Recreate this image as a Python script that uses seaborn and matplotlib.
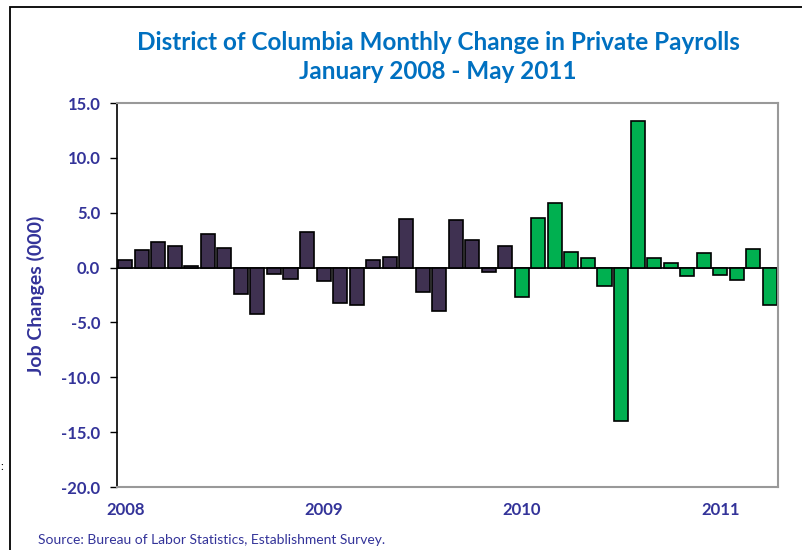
import matplotlib
matplotlib.use("Agg")
import matplotlib.pyplot as plt
import seaborn as sns
import pandas as pd
from matplotlib.patches import Rectangle

# Data (thousands of jobs), Jan 2008 onward
values_2008_2009 = [0.7, 1.6, 2.3, 2.0, 0.1, 3.1, 1.8, -2.4, -4.2, -0.6, -1.0, 3.2,
                    -1.2, -3.2, -3.4, 0.7, 1.0, 4.4, -2.2, -4.0, 4.3, 2.5, -0.4, 2.0]
values_2010_2011 = [-2.7, 4.5, 5.9, 1.4, 0.9, -1.7, -14.0, 13.4, 0.9, 0.4, -0.8, 1.3,
                    -0.7, -1.1, 1.7, -3.4]
year_labels = ["2008", "2009", "2010", "2011"]
y_ticks = [15.0, 10.0, 5.0, 0.0, -5.0, -10.0, -15.0, -20.0]

title = "District of Columbia Monthly Change in Private Payrolls\nJanuary 2008 - May 2011"
ylabel = "Job Changes (000)"
source = "Source: Bureau of Labor Statistics, Establishment Survey."

values = values_2008_2009 + values_2010_2011
groups = ["early"] * len(values_2008_2009) + ["late"] * len(values_2010_2011)
df = pd.DataFrame({"month": list(range(len(values))), "change": values, "group": groups})

sns.set_style("white")
plt.rcParams["font.family"] = ["Lato", "DejaVu Sans"]

navy = "#333399"
fig = plt.figure(figsize=(8.03, 5.5), dpi=100)
ax = fig.add_axes([117 / 803, 1 - 487 / 550, (778 - 117) / 803, (487 - 103) / 550])

sns.barplot(data=df, x="month", y="change", hue="group", dodge=False,
            palette={"early": "#3F3151", "late": "#00B050"}, width=0.85, saturation=1,
            edgecolor="black", linewidth=1.2, legend=False, ax=ax)

ax.axhline(0, color="black", lw=1.2, zorder=0.5)
ax.set_xlim(-0.5, len(values) - 0.5)
ax.set_ylim(-20, 15)
ax.set_yticks(y_ticks)
ax.set_yticklabels([f"{v:.1f}" for v in y_ticks], fontsize=12, fontweight="bold", color=navy)
ax.set_xticks([0, 12, 24, 36])
ax.set_xticklabels(year_labels, fontsize=12, fontweight="bold", color=navy)
ax.tick_params(axis="y", direction="out", length=5, width=1, color="black", pad=7, left=True)
ax.tick_params(axis="x", length=0, pad=11)
ax.set_xlabel("")
ax.set_ylabel(ylabel, fontsize=14, fontweight="bold", color=navy, labelpad=12)

for side in ["top", "right", "bottom"]:
    ax.spines[side].set_color("#999999")
    ax.spines[side].set_linewidth(1.5)
ax.spines["left"].set_color("black")
ax.spines["left"].set_linewidth(1.2)

fig.text(438 / 803, 1 - 57 / 550, title, ha="center", va="center", fontsize=17.5,
         fontweight="bold", color="#0070C0", linespacing=1.3)
fig.text(38 / 803, 1 - 540 / 550, source, ha="left", va="center", fontsize=10, color=navy)
fig.text(0 / 803, 1 - 467 / 550, ":", ha="left", va="center", fontsize=8, color="black")

fig.patches.append(Rectangle((10 / 803, -0.1), 1.2, 1 - 7 / 550 + 0.1,
                             transform=fig.transFigure, fill=False,
                             edgecolor="black", lw=1.3))

fig.savefig("out.png", dpi=100)
